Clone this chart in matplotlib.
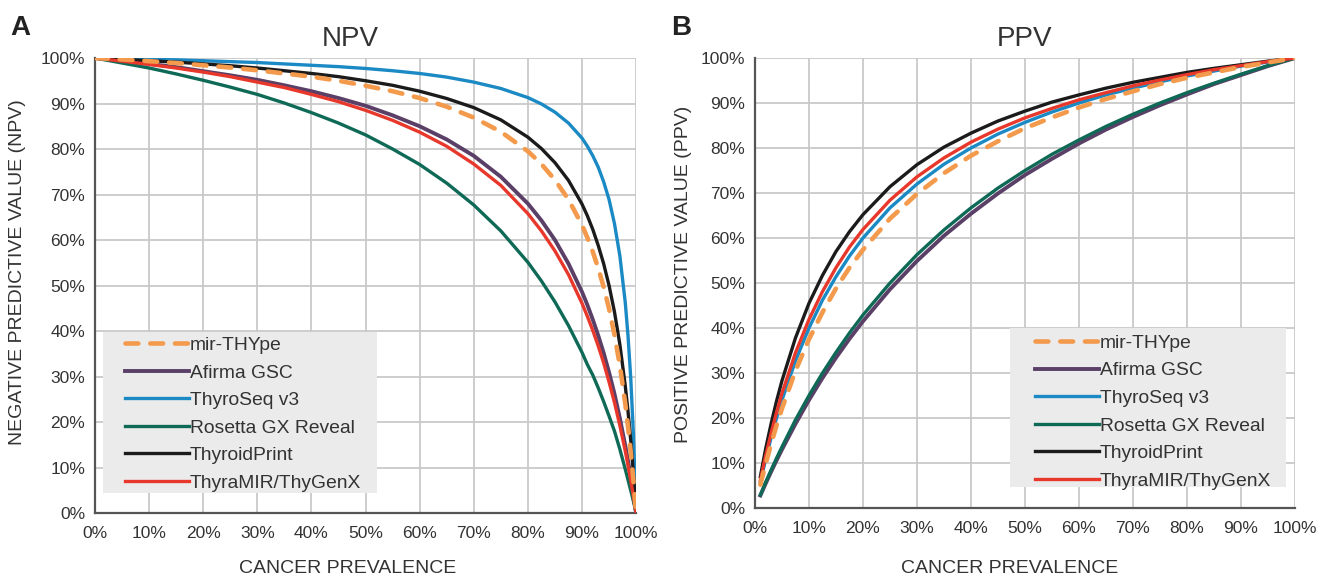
"""
NPV / PPV vs cancer prevalence for six thyroid molecular tests (panels A and B)
"""
import matplotlib
matplotlib.use("Agg")
import matplotlib.pyplot as plt
from matplotlib.patches import Rectangle
from matplotlib.ticker import FuncFormatter

plt.rcParams["font.family"] = ["Liberation Sans", "DejaVu Sans"]

# ── colours ──────────────────────────────────────────────
COLORS = {
    "mir-THYpe":         "#F39A4C",
    "Afirma GSC":        "#5A3F67",
    "ThyroSeq v3":       "#1B8AC4",
    "Rosetta GX Reveal": "#0E6A56",
    "ThyroidPrint":      "#1B1B1B",
    "ThyraMIR/ThyGenX":  "#E8382B",
    "grid":    "#C9C9C9",
    "spine":   "#555555",
    "text":    "#333333",
    "legend":  "#EBEBEB",
}

TESTS = ["mir-THYpe", "Afirma GSC", "ThyroSeq v3",
         "Rosetta GX Reveal", "ThyroidPrint", "ThyraMIR/ThyGenX"]

# ── data (% values) ──────────────────────────────────────
npv_prev = [0, 5, 10, 15, 20, 25, 30, 35, 40, 45, 50, 55, 60, 65, 70, 75, 80,
            82.5, 85, 87.5, 90, 91, 92, 93, 94, 95, 96, 97, 98, 98.5, 99, 99.5, 100]

npv_mirthype = [100, 99.7, 99.3, 98.9, 98.4, 97.9, 97.3, 96.6, 95.9, 95.0, 93.9, 92.7, 91.2,
                89.3, 86.9, 83.8, 79.5, 76.7, 73.2, 68.9, 63.3, 60.5, 57.4, 53.8, 49.7, 44.9,
                39.2, 32.4, 24.0, 19.1, 13.5, 7.2, 0]
npv_afirma = [100, 99.4, 98.7, 98.0, 97.1, 96.2, 95.2, 94.0, 92.7, 91.2, 89.5, 87.4, 85.0,
              82.1, 78.5, 73.9, 68.0, 64.3, 60.0, 54.8, 48.6, 45.7, 42.5, 39.0, 35.2, 30.9,
              26.2, 20.8, 14.8, 11.5, 7.9, 4.1, 0]
npv_thyroseq = [100, 99.9, 99.7, 99.6, 99.4, 99.2, 99.0, 98.7, 98.4, 98.1, 97.7, 97.2, 96.6,
                95.8, 94.7, 93.3, 91.3, 89.9, 88.1, 85.7, 82.4, 80.6, 78.5, 76.0, 72.8, 68.9,
                63.6, 56.5, 46.2, 39.0, 29.8, 17.4, 0]
npv_rosetta = [100, 98.9, 97.8, 96.5, 95.1, 93.6, 92.0, 90.1, 88.0, 85.7, 83.1, 80.0, 76.6,
               72.5, 67.7, 62.0, 55.1, 51.0, 46.4, 41.2, 35.3, 32.6, 30.3, 27.5, 24.5, 21.3,
               18.0, 14.0, 9.6, 7.3, 5.0, 2.6, 0]
npv_thyroidprint = [100, 99.7, 99.4, 99.1, 98.7, 98.3, 97.8, 97.2, 96.6, 95.9, 95.0, 94.0, 92.7,
                    91.1, 89.1, 86.4, 82.6, 80.1, 77.0, 73.1, 67.9, 65.3, 62.3, 58.8, 54.8, 50.0,
                    44.2, 37.0, 27.9, 22.4, 16.1, 8.7, 0]
npv_thyramir = [100, 99.3, 98.6, 97.8, 96.9, 95.9, 94.7, 93.5, 92.0, 90.4, 88.5, 86.3, 83.7,
                80.6, 76.7, 72.0, 65.8, 62.0, 57.6, 52.4, 46.1, 43.2, 40.1, 36.7, 33.0, 28.8,
                24.3, 19.2, 13.6, 10.5, 7.2, 3.7, 0]

ppv_prev = [1, 2, 3, 4, 5, 7.5, 10, 12.5, 15, 17.5, 20, 25, 30, 35, 40, 45, 50,
            55, 60, 65, 70, 75, 80, 85, 90, 95, 100]

ppv_mirthype = [5.2, 9.9, 14.3, 18.4, 22.1, 30.5, 37.5, 43.5, 48.8, 53.4, 57.4, 64.3, 69.8, 74.4,
                78.3, 81.5, 84.4, 86.8, 89.0, 90.9, 92.6, 94.2, 95.6, 96.8, 98.0, 99.0, 100]
ppv_afirma = [2.8, 5.5, 8.1, 10.6, 13.0, 18.7, 24.0, 28.9, 33.4, 37.6, 41.5, 48.6, 54.9, 60.5,
              65.4, 69.9, 74.0, 77.6, 81.0, 84.1, 86.9, 89.5, 91.9, 94.2, 96.2, 98.2, 100]
ppv_thyroseq = [5.7, 10.9, 15.7, 20.0, 24.0, 32.7, 40.0, 46.2, 51.4, 56.0, 60.0, 66.7, 72.0, 76.4,
                80.0, 83.1, 85.7, 88.0, 90.0, 91.8, 93.3, 94.7, 96.0, 97.1, 98.2, 99.1, 100]
ppv_rosetta = [2.9, 5.8, 8.5, 11.1, 13.6, 19.6, 25.0, 30.0, 34.6, 38.9, 42.9, 50.0, 56.3, 61.8,
               66.7, 71.1, 75.0, 78.6, 81.8, 84.8, 87.5, 90.0, 92.3, 94.4, 96.4, 98.3, 100]
ppv_thyroidprint = [7.0, 13.3, 18.8, 23.8, 28.3, 37.8, 45.5, 51.7, 57.0, 61.4, 65.2, 71.4, 76.3,
                    80.2, 83.3, 86.0, 88.2, 90.2, 91.8, 93.3, 94.6, 95.7, 96.8, 97.7, 98.5, 99.3, 100]
ppv_thyramir = [6.2, 11.7, 16.7, 21.3, 25.5, 34.5, 41.9, 48.1, 53.4, 58.0, 61.9, 68.4, 73.6, 77.8,
                81.3, 84.2, 86.7, 88.8, 90.7, 92.3, 93.8, 95.1, 96.3, 97.4, 98.3, 99.2, 100]

NPV_SERIES = [npv_mirthype, npv_afirma, npv_thyroseq, npv_rosetta, npv_thyroidprint, npv_thyramir]
PPV_SERIES = [ppv_mirthype, ppv_afirma, ppv_thyroseq, ppv_rosetta, ppv_thyroidprint, ppv_thyramir]

ticks = list(range(0, 101, 10))


def _style_axes(ax, title, ylabel, title_x, xlabel_xy, ylabel_xy):
    ax.set_xlim(0, 100)
    ax.set_ylim(0, 100)
    ax.set_xticks(ticks)
    ax.set_yticks(ticks)
    pct = FuncFormatter(lambda v, _: f"{v:.0f}%")
    ax.xaxis.set_major_formatter(pct)
    ax.yaxis.set_major_formatter(pct)
    ax.tick_params(length=0, labelsize=12.5, colors=COLORS["text"])
    ax.tick_params(axis="x", pad=9)
    ax.tick_params(axis="y", pad=7)
    ax.grid(True, color=COLORS["grid"], lw=1.3)
    ax.set_axisbelow(True)
    for side in ("top", "right"):
        ax.spines[side].set_visible(False)
    for side in ("left", "bottom"):
        ax.spines[side].set_color(COLORS["spine"])
        ax.spines[side].set_linewidth(1.6)
    ax.set_title(title, fontsize=20, color=COLORS["text"], pad=8.5, x=title_x)
    ax.set_xlabel("CANCER PREVALENCE", fontsize=14, color=COLORS["text"])
    ax.set_ylabel(ylabel, fontsize=14, color=COLORS["text"])
    ax.xaxis.set_label_coords(*xlabel_xy)
    ax.yaxis.set_label_coords(*ylabel_xy)


def _draw_curves(ax, x, series):
    for name, y in zip(TESTS, series):
        if name == "mir-THYpe":
            ax.plot(x, y, color=COLORS[name], lw=3.3, ls=(0, (2.8, 2.6)),
                    dash_capstyle="round", label=name, zorder=4)
        else:
            lw = 2.8 if name == "Afirma GSC" else 2.4
            ax.plot(x, y, color=COLORS[name], lw=lw, label=name, zorder=3)


def _legend(ax, box, anchor):
    # grey background drawn separately so the padding matches the original
    ax.add_patch(Rectangle(box[:2], box[2], box[3], transform=ax.transAxes,
                           facecolor=COLORS["legend"], edgecolor="none", zorder=5))
    leg = ax.legend(loc="upper left", bbox_to_anchor=anchor, fontsize=13.9,
                    frameon=False, handlelength=3.3, handletextpad=0.05,
                    labelspacing=0.52, borderpad=0, borderaxespad=0)
    leg.set_zorder(6)
    for t in leg.get_texts():
        t.set_color(COLORS["text"])


fig = plt.figure(figsize=(13.28, 5.8), dpi=100)
fig.patch.set_facecolor("white")

ax_a = fig.add_axes([0.0715, 0.1155, 0.4075, 0.7845])
ax_b = fig.add_axes([0.5685, 0.124, 0.4066, 0.776])

_draw_curves(ax_a, npv_prev, NPV_SERIES)
_style_axes(ax_a, "NPV", "NEGATIVE PREDICTIVE VALUE (NPV)", 0.471,
            (0.466, -0.103), (-0.1275, 0.529))
_legend(ax_a, (0.0148, 0.044, 0.5065, 0.354), (0.0555, 0.388))

_draw_curves(ax_b, ppv_prev, PPV_SERIES)
_style_axes(ax_b, "PPV", "POSITIVE PREDICTIVE VALUE (PPV)", 0.5,
            (0.472, -0.116), (-0.117, 0.52))
_legend(ax_b, (0.472, 0.0467, 0.511, 0.353), (0.5185, 0.386))

fig.text(0.008, 0.94, "A", fontsize=20, fontweight="bold", color="#222222")
fig.text(0.505, 0.94, "B", fontsize=20, fontweight="bold", color="#222222")

fig.savefig("out.png", dpi=100, facecolor="white")
